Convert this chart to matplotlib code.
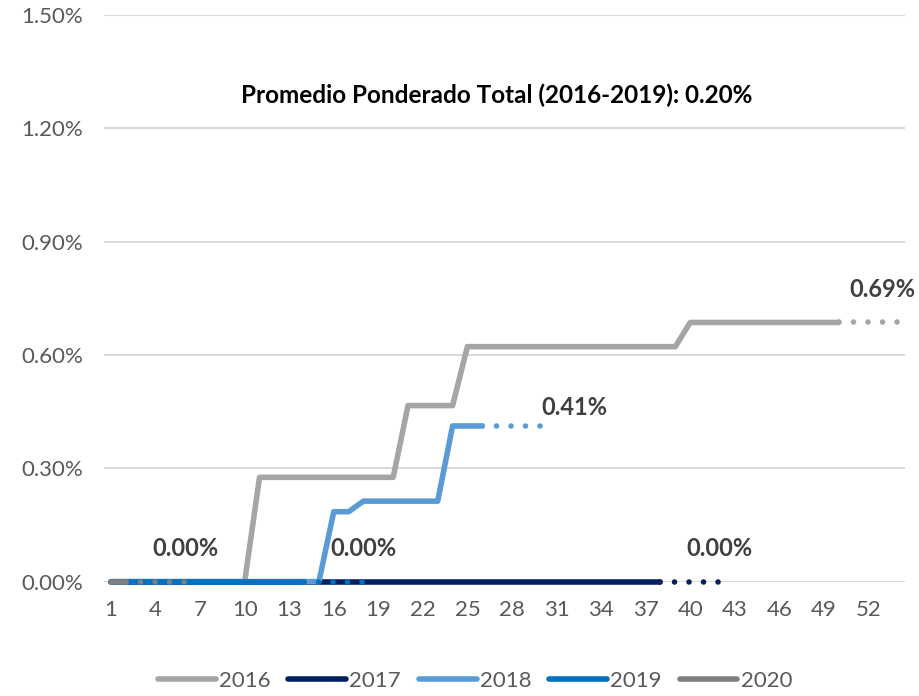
import numpy as np
import matplotlib
matplotlib.use('Agg')
import matplotlib.pyplot as plt

''' ******************************************* DATA ******************************************* '''
# Semana del año (eje X).
semanas = list(range(1, 55))
etiquetas_x = list(range(1, 53, 3))

anios = ['2016', '2017', '2018', '2019', '2020']
colores = ['#A5A5A5', '#002060', '#5B9BD5', '#0070C0', '#7F7F7F']

# Tasa acumulada (%) observada, desde la semana 1.
real_2016 = [0.0, 0.0, 0.0, 0.0, 0.0, 0.0, 0.0, 0.0, 0.0, 0.0,
             0.276, 0.276, 0.276, 0.276, 0.276, 0.276, 0.276, 0.276, 0.276, 0.276,
             0.466, 0.466, 0.466, 0.466,
             0.622, 0.622, 0.622, 0.622, 0.622, 0.622, 0.622, 0.622, 0.622, 0.622,
             0.622, 0.622, 0.622, 0.622, 0.622,
             0.686, 0.686, 0.686, 0.686, 0.686, 0.686, 0.686, 0.686, 0.686, 0.686, 0.686]
real_2017 = [0.0, 0.0, 0.0, 0.0, 0.0, 0.0, 0.0, 0.0, 0.0, 0.0,
             0.0, 0.0, 0.0, 0.0, 0.0, 0.0, 0.0, 0.0, 0.0, 0.0,
             0.0, 0.0, 0.0, 0.0, 0.0, 0.0, 0.0, 0.0, 0.0, 0.0,
             0.0, 0.0, 0.0, 0.0, 0.0, 0.0, 0.0, 0.0]
real_2018 = [0.0, 0.0, 0.0, 0.0, 0.0, 0.0, 0.0, 0.0, 0.0, 0.0,
             0.0, 0.0, 0.0, 0.0, 0.0,
             0.185, 0.185,
             0.213, 0.213, 0.213, 0.213, 0.213, 0.213,
             0.412, 0.412, 0.412]
real_2019 = [0.0, 0.0, 0.0, 0.0, 0.0, 0.0, 0.0, 0.0, 0.0, 0.0,
             0.0, 0.0, 0.0, 0.0]
real_2020 = [0.0, 0.0]

# Proyección (punteada), arranca en la última semana observada.
proy_2016 = [0.686, 0.686, 0.686, 0.686, 0.686]
proy_2017 = [0.0, 0.0, 0.0, 0.0, 0.0]
proy_2018 = [0.412, 0.412, 0.412, 0.412, 0.412]
proy_2019 = [0.0, 0.0, 0.0, 0.0, 0.0]
proy_2020 = [0.0, 0.0, 0.0, 0.0, 0.0]

titulo = 'Promedio Ponderado Total (2016-2019): 0.20%'
y_ticks = [0.0, 0.3, 0.6, 0.9, 1.2, 1.5]

reales = [real_2016, real_2017, real_2018, real_2019, real_2020]
proyecciones = [proy_2016, proy_2017, proy_2018, proy_2019, proy_2020]
# Desplazamiento de la etiqueta respecto del último punto (pixeles).
offsets_etiqueta = [(-16, 33), (0, 33), (33, 18), (0, 33), (0, 33)]

''' ******************************************* PLOT ******************************************* '''
plt.rcParams['font.family'] = ['Lato', 'DejaVu Sans']

fig = plt.figure(figsize=(9.2, 6.96), dpi=100)
ax = fig.add_axes([103.6 / 920, 1 - 581.6 / 696, (905.5 - 103.6) / 920, (581.6 - 15) / 696])

lw = 4.0
for anio, color, real, proy, off in zip(anios, colores, reales, proyecciones, offsets_etiqueta):
    x_real = semanas[:len(real)]
    ax.plot(x_real, real, color=color, lw=lw, solid_capstyle='round', solid_joinstyle='round',
            clip_on=False, label=anio, zorder=3)
    x_proy = semanas[len(real) - 1:len(real) - 1 + len(proy)]
    ax.plot(x_proy, proy, color=color, lw=lw, linestyle=(0, (0.01, 2.6)), dash_capstyle='round',
            clip_on=False, zorder=3)
    ax.annotate(f'{proy[-1]:.2f}%', (x_proy[-1], proy[-1]), xytext=off, textcoords='offset pixels',
                ha='center', va='center', fontsize=17, fontweight='bold', color='#404040', zorder=5)

ax.set_xlim(0.5, 54.5)
ax.set_ylim(0, 1.5)
ax.set_yticks(y_ticks)
ax.set_yticklabels([f'{v:.2f}%' for v in y_ticks])
ax.set_xticks(etiquetas_x)
ax.set_xticklabels([str(s) for s in etiquetas_x])
ax.tick_params(length=0, labelsize=16, colors='#595959')
ax.tick_params(axis='y', pad=15)
ax.tick_params(axis='x', pad=13)
ax.grid(axis='y', color='#D9D9D9', lw=1.5)
ax.set_axisbelow(True)
for s in ax.spines.values():
    s.set_visible(False)

fig.text(497 / 920, 1 - 95 / 696, titulo, ha='center', va='center', fontsize=17.5,
         fontweight='bold', color='#000000')

fig.legend(loc='center', bbox_to_anchor=(475 / 920, 1 - 681 / 696), ncol=5, frameon=False,
           fontsize=16, labelcolor='#595959', handlelength=2.6, handletextpad=0.15,
           columnspacing=0.8)

fig.savefig('out.png', dpi=100)
